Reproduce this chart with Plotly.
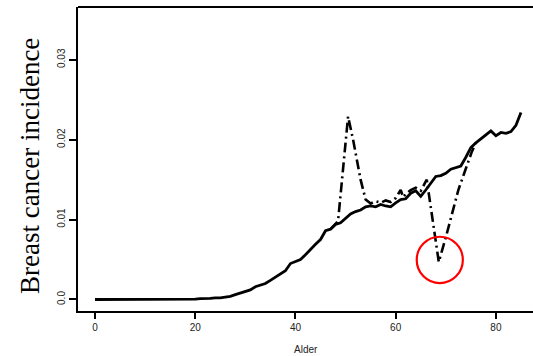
import plotly.graph_objects as go

# Solid curve: incidence by age (yearly)
ages = list(range(0, 86))
incidence = [
    0.0, 0.0, 0.0, 0.0, 0.0, 0.0, 0.0, 0.0, 0.0, 0.0,
    0.0, 0.0, 0.0, 0.0, 0.0, 0.0, 0.0, 0.0, 0.0, 0.0,
    0.00005, 0.0001, 0.0001, 0.00015, 0.0002, 0.0002, 0.0003, 0.0004, 0.0006, 0.0008,
    0.0010, 0.0012, 0.0016, 0.0018, 0.0020, 0.0024, 0.0028, 0.0032, 0.0036, 0.0045,
    0.0048, 0.0050, 0.0056, 0.0063, 0.0069, 0.0075, 0.0086, 0.0088, 0.0094, 0.0096,
    0.0102, 0.0107, 0.0110, 0.0112, 0.0116, 0.0117, 0.0116, 0.0119, 0.0117, 0.0116,
    0.0121, 0.0125, 0.0126, 0.0133, 0.0136, 0.0129, 0.0137, 0.0146, 0.0154, 0.0155,
    0.0158, 0.0163, 0.0165, 0.0167, 0.0178, 0.0190, 0.0196, 0.0201, 0.0207, 0.0211,
    0.0205, 0.0209, 0.0208, 0.0210, 0.0218, 0.0234,
]

# Dash-dot curve where it departs from the solid one
alt_ages = [47, 48.5, 50.5, 51.5, 53, 54, 55, 56, 57, 58, 59, 60, 61, 61.5, 62, 63, 64,
            65, 66.2, 68.6, 70.1, 71.3, 72.5, 73.9, 75.2, 76]
alt_incidence = [0.0088, 0.0098, 0.0229, 0.0200, 0.0150, 0.0125, 0.0120, 0.0123, 0.0121,
                 0.0124, 0.0122, 0.0127, 0.0137, 0.0128, 0.0132, 0.0137, 0.0140, 0.0136,
                 0.0150, 0.0047, 0.0080, 0.0110, 0.0137, 0.0162, 0.0185, 0.0196]

x_ticks = [0, 20, 40, 60, 80]
y_ticks = [0.0, 0.01, 0.02, 0.03]
y_tick_text = ["0.0", "0.01", "0.02", "0.03"]

circle_center = (68.8, 0.00495)
circle_rx, circle_ry = 4.6, 0.0029

fig = go.Figure()
fig.add_trace(go.Scatter(x=ages, y=incidence, mode="lines",
                         line=dict(color="black", width=2.8), showlegend=False))
fig.add_trace(go.Scatter(x=alt_ages, y=alt_incidence, mode="lines",
                         line=dict(color="black", width=2.6, dash="10px,4px,2px,4px"),
                         showlegend=False))

fig.add_shape(type="circle", xref="x", yref="y",
              x0=circle_center[0] - circle_rx, x1=circle_center[0] + circle_rx,
              y0=circle_center[1] - circle_ry, y1=circle_center[1] + circle_ry,
              line=dict(color="red", width=2.2))
# top border of box
fig.add_shape(type="line", xref="paper", yref="paper", x0=0, x1=1, y0=1, y1=1,
              line=dict(color="black", width=2))

tickfont = dict(family="Liberation Sans, Arial", size=10, color="#222")
fig.update_layout(
    width=533, height=356,
    margin=dict(l=78, r=0, t=7, b=45),
    paper_bgcolor="white", plot_bgcolor="white",
    xaxis=dict(range=[-3.39, 87.4], tickvals=x_ticks, ticks="outside", ticklen=6,
               tickwidth=2, tickcolor="black", showline=True, linecolor="black",
               linewidth=2, showgrid=False, zeroline=False, tickfont=tickfont),
    yaxis=dict(range=[-0.00144, 0.0366], tickvals=y_ticks, ticktext=y_tick_text,
               ticks="outside", ticklen=7, tickwidth=2, tickcolor="black",
               showline=True, linecolor="black", linewidth=2, showgrid=False,
               zeroline=False, tickangle=-90, tickfont=tickfont),
    annotations=[
        dict(text="Breast cancer incidence", xref="paper", yref="paper",
             x=-0.1055, y=0.477, textangle=-90, showarrow=False,
             xanchor="center", yanchor="middle",
             font=dict(family="Liberation Serif, Times New Roman", size=27, color="black")),
        dict(text="Alder", xref="paper", yref="paper", x=0.5, y=-0.126,
             showarrow=False, xanchor="center", yanchor="middle",
             font=dict(family="Liberation Sans, Arial", size=10, color="#222")),
    ],
)

fig.write_html("out.html")
